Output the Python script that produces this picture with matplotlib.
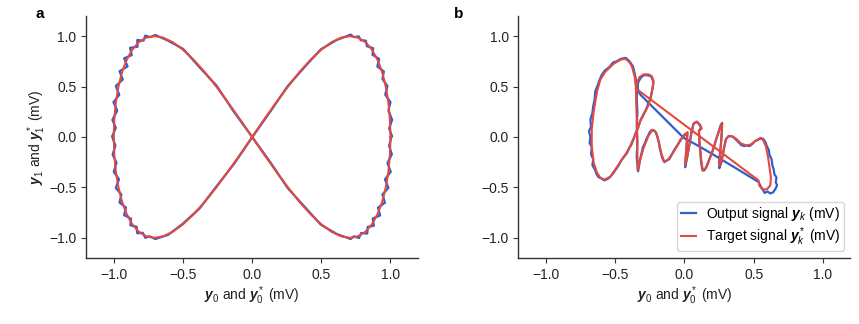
import numpy as np
import matplotlib
matplotlib.use("Agg")
import matplotlib.pyplot as plt

plt.rcParams["font.family"] = ["Liberation Sans", "DejaVu Sans"]
plt.rcParams["mathtext.fontset"] = "custom"
plt.rcParams["mathtext.rm"] = "Liberation Sans"
plt.rcParams["mathtext.it"] = "Liberation Sans:italic"
plt.rcParams["mathtext.bf"] = "Liberation Sans:bold"
plt.rcParams["mathtext.bfit"] = "Liberation Sans:bold:italic"

BLUE = "#2f5fcc"
RED = "#e5483d"

#%% panel a : figure eight (target and output)
eight_target_x = [1.0, .996, .985, .966, .940, .906, .866, .819, .766, .707, .643, .574, .5, .423, .342, .259, .174, .087,
                  0.0, -.087, -.174, -.259, -.342, -.423, -.5, -.574, -.643, -.707, -.766, -.819, -.866, -.906, -.940, -.966, -.985, -.996,
                  -1.0, -.996, -.985, -.966, -.940, -.906, -.866, -.819, -.766, -.707, -.643, -.574, -.5, -.423, -.342, -.259, -.174, -.087,
                  0.0, .087, .174, .259, .342, .423, .5, .574, .643, .707, .766, .819, .866, .906, .940, .966, .985, .996, 1.0]
eight_target_y = [0.0, .174, .342, .5, .643, .766, .866, .940, .985, 1.0, .985, .940, .866, .766, .643, .5, .342, .174,
                  0.0, -.174, -.342, -.5, -.643, -.766, -.866, -.940, -.985, -1.0, -.985, -.940, -.866, -.766, -.643, -.5, -.342, -.174,
                  0.0, .174, .342, .5, .643, .766, .866, .940, .985, 1.0, .985, .940, .866, .766, .643, .5, .342, .174,
                  0.0, -.174, -.342, -.5, -.643, -.766, -.866, -.940, -.985, -1.0, -.985, -.940, -.866, -.766, -.643, -.5, -.342, -.174, 0.0]

eight_output_x = [1.010, 0.990, 1.012, 0.985, 1.000, 0.962, 0.978, 0.942, 0.952, 0.905, 0.918, 0.870, 0.875, 0.830, 0.822,
                  0.785, 0.770, 0.735, 0.712,
                  0.612, 0.497, 0.385, 0.256, 0.133, 0.003,
                  -0.128, -0.262, -0.380, -0.503, -0.606,
                  -0.700, -0.740, -0.772, -0.790, -0.830, -0.835, -0.880, -0.875, -0.925, -0.912, -0.958, -0.945, -0.985,
                  -0.962, -1.000, -0.980, -1.008, -0.988, -1.012,
                  -0.985, -1.010, -0.975, -1.002, -0.960, -0.985, -0.935, -0.958, -0.900, -0.925, -0.870, -0.882, -0.828,
                  -0.830, -0.785, -0.772, -0.735, -0.700,
                  -0.612, -0.497, -0.386, -0.255, -0.134, 0.002,
                  0.134, 0.256, 0.386, 0.497, 0.612,
                  0.712, 0.735, 0.772, 0.788, 0.832, 0.835, 0.880, 0.872, 0.925, 0.910, 0.960, 0.942, 0.985, 0.960,
                  1.002, 0.978, 1.010, 0.990, 1.008]
eight_output_y = [0.010, 0.085, 0.170, 0.262, 0.345, 0.420, 0.505, 0.575, 0.650, 0.700, 0.775, 0.815, 0.880, 0.900, 0.955,
                  0.960, 0.998, 0.990, 1.015,
                  0.962, 0.870, 0.702, 0.503, 0.255, 0.002,
                  -0.262, -0.497, -0.710, -0.862, -0.970,
                  -1.012, -0.985, -1.000, -0.950, -0.955, -0.890, -0.875, -0.810, -0.775, -0.700, -0.650, -0.570, -0.505,
                  -0.420, -0.345, -0.255, -0.175, -0.085, 0.005,
                  0.090, 0.170, 0.262, 0.345, 0.418, 0.505, 0.570, 0.652, 0.700, 0.780, 0.812, 0.885, 0.895,
                  0.962, 0.955, 1.005, 0.990, 1.012,
                  0.958, 0.872, 0.700, 0.506, 0.254, -0.003,
                  -0.255, -0.505, -0.702, -0.870, -0.962,
                  -1.012, -0.985, -1.002, -0.952, -0.958, -0.892, -0.880, -0.808, -0.778, -0.700, -0.652, -0.570, -0.505, -0.420,
                  -0.345, -0.258, -0.172, -0.088, 0.005]

#%% panel b : handwriting trajectory
hand_target_x = [-0.350, -0.360, -0.379, -0.401, -0.427, -0.463, -0.511, -0.572, -0.608, -0.632, -0.656, -0.670, -0.670,
                 -0.656, -0.632, -0.608, -0.579, -0.536, -0.475, -0.403, -0.355, -0.319, -0.295, -0.259, -0.235, -0.223,
                 -0.235, -0.259, -0.295, -0.324, -0.343, -0.350,
                 -0.348, -0.343, -0.341, -0.338, -0.338,
                 -0.319, -0.295, -0.259, -0.230, -0.206, -0.187, -0.167, -0.146, -0.122, -0.083, -0.042, -0.001, 0.023,
                 0.013, 0.006, 0.030, 0.054, 0.066, 0.090, 0.114, 0.124, 0.104,
                 0.109, 0.121, 0.133, 0.158, 0.199, 0.235, 0.259, 0.273,
                 0.266, 0.256, 0.251, 0.266, 0.283, 0.300, 0.319, 0.345, 0.374, 0.408, 0.446, 0.480, 0.511, 0.543,
                 0.567, 0.588, 0.603, 0.615, 0.625, 0.620, 0.596, 0.564, 0.543, 0.535, -0.350]
hand_target_y = [0.480, 0.597, 0.697, 0.746, 0.776, 0.766, 0.727, 0.647, 0.568, 0.450, 0.252, 0.074, -0.091,
                 -0.255, -0.354, -0.404, -0.423, -0.394, -0.272, -0.124, 0.025, 0.157, 0.222, 0.318, 0.450, 0.552,
                 0.601, 0.621, 0.621, 0.595, 0.542, 0.476,
                 0.305, 0.107, -0.091, -0.272, -0.328,
                 -0.222, -0.107, 0.015, 0.071, 0.048, -0.041, -0.163, -0.245, -0.229, -0.157, -0.064, 0.025, 0.048,
                 -0.124, -0.288, -0.124, 0.058, 0.133, 0.153, 0.120, 0.081, 0.064,
                 -0.058, -0.222, -0.334, -0.305, -0.157, 0.002, 0.100, 0.133,
                 -0.025, -0.189, -0.288, -0.255, -0.130, -0.025, 0.008, 0.008, -0.018, -0.064, -0.084, -0.074, -0.041, -0.015,
                 -0.025, -0.091, -0.189, -0.305, -0.404, -0.480, -0.519, -0.519, -0.486, -0.430, 0.480]

hand_output_x = [-0.345, -0.355, -0.372, -0.400, -0.425, -0.460, -0.490, -0.515, -0.545, -0.575, -0.600, -0.615, -0.625,
                 -0.645, -0.648, -0.660, -0.665, -0.680, -0.675, -0.690, -0.680, -0.685, -0.670, -0.675, -0.660, -0.665,
                 -0.645, -0.635, -0.620, -0.600, -0.580, -0.560, -0.540, -0.515, -0.500, -0.475, -0.460, -0.440, -0.415,
                 -0.400, -0.385, -0.365, -0.355, -0.335, -0.320, -0.305, -0.290, -0.275, -0.262, -0.245, -0.235, -0.228,
                 -0.225, -0.240, -0.260, -0.290, -0.315, -0.335, -0.340,
                 -0.345, -0.340, -0.345, -0.340, -0.345, -0.335, -0.330, -0.320, -0.310, -0.300, -0.285, -0.275, -0.260,
                 -0.250, -0.235, -0.220, -0.205, -0.195, -0.185, -0.180, -0.170, -0.160, -0.145, -0.130, -0.110, -0.090,
                 -0.070, -0.050, -0.030, -0.005, 0.020,
                 0.015, 0.008, 0.005, 0.020, 0.035, 0.050, 0.065, 0.085, 0.105, 0.120, 0.105, 0.108, 0.115, 0.120, 0.130,
                 0.145, 0.160, 0.180, 0.200, 0.215, 0.230, 0.245, 0.260, 0.272,
                 0.270, 0.265, 0.258, 0.250, 0.252, 0.265, 0.278, 0.290, 0.300, 0.320, 0.345, 0.360, 0.375, 0.390, 0.410,
                 0.430, 0.450, 0.470, 0.490, 0.510, 0.530, 0.550, 0.570, 0.585, 0.595, 0.610, 0.615, 0.630, 0.635, 0.645,
                 0.650, 0.665, 0.660, 0.670, 0.655, 0.640, 0.620, 0.600, 0.580, 0.565, 0.555,
                 0.535, 0.360, 0.187, 0.090, -0.006, -0.102, -0.174, -0.250, -0.319, -0.345]
hand_output_y = [0.500, 0.600, 0.700, 0.755, 0.785, 0.775, 0.750, 0.740, 0.690, 0.660, 0.610, 0.560, 0.520,
                 0.450, 0.380, 0.300, 0.240, 0.170, 0.100, 0.060, 0.000, -0.060, -0.100, -0.170, -0.220, -0.280,
                 -0.330, -0.370, -0.400, -0.410, -0.430, -0.420, -0.400, -0.360, -0.330, -0.280, -0.240, -0.200, -0.160,
                 -0.110, -0.080, -0.010, 0.030, 0.090, 0.160, 0.200, 0.240, 0.280, 0.330, 0.380, 0.450, 0.500,
                 0.550, 0.600, 0.610, 0.615, 0.590, 0.540, 0.480,
                 0.380, 0.250, 0.100, -0.050, -0.200, -0.340, -0.300, -0.220, -0.160, -0.100, -0.060, -0.020, 0.020,
                 0.050, 0.070, 0.065, 0.040, 0.000, -0.050, -0.100, -0.160, -0.210, -0.250, -0.235, -0.220, -0.170,
                 -0.120, -0.080, -0.030, 0.010, 0.040,
                 -0.100, -0.220, -0.300, -0.200, -0.080, 0.050, 0.130, 0.150, 0.130, 0.090, 0.060, -0.050, -0.150, -0.250, -0.330,
                 -0.330, -0.290, -0.220, -0.150, -0.090, -0.020, 0.040, 0.110, 0.140,
                 0.050, -0.050, -0.150, -0.250, -0.310, -0.260, -0.170, -0.080, -0.020, 0.010, 0.005, -0.010, -0.030, -0.050, -0.080,
                 -0.090, -0.085, -0.090, -0.070, -0.040, -0.030, -0.010, -0.020, -0.050, -0.090, -0.130, -0.180, -0.220, -0.280, -0.320,
                 -0.370, -0.400, -0.450, -0.480, -0.520, -0.550, -0.560, -0.540, -0.555, -0.520, -0.500,
                 -0.446, -0.300, -0.157, -0.080, -0.008, 0.124, 0.222, 0.325, 0.420, 0.500]

ticks = [-1.0, -0.5, 0.0, 0.5, 1.0]
xlabel = r"$\boldsymbol{y}_0$ and $\boldsymbol{y}_0^*$ (mV)"
ylabel = r"$\boldsymbol{y}_1$ and $\boldsymbol{y}_1^*$ (mV)"
out_label = r"Output signal $\boldsymbol{y}_k$ (mV)"
tgt_label = r"Target signal $\boldsymbol{y}_k^*$ (mV)"

fig = plt.figure(figsize=(8.59, 3.24), dpi=100)
ax_a = fig.add_axes([0.1002, 0.2037, 0.3866, 0.747])
ax_b = fig.add_axes([0.6035, 0.2037, 0.3866, 0.747])

ax_a.plot(eight_output_x, eight_output_y, color=BLUE, lw=1.6, label=out_label)
ax_a.plot(eight_target_x, eight_target_y, color=RED, lw=1.5, label=tgt_label)

ax_b.plot(hand_output_x, hand_output_y, color=BLUE, lw=1.6, label=out_label)
ax_b.plot(hand_target_x, hand_target_y, color=RED, lw=1.5, label=tgt_label)

for ax in (ax_a, ax_b):
    ax.set_xlim(-1.2, 1.2)
    ax.set_ylim(-1.2, 1.2)
    ax.set_xticks(ticks)
    ax.set_yticks(ticks)
    ax.spines["top"].set_visible(False)
    ax.spines["right"].set_visible(False)
    for s in ("left", "bottom"):
        ax.spines[s].set_color("#333333")
        ax.spines[s].set_linewidth(1.0)
    ax.tick_params(direction="out", length=3.5, width=0.8, colors="#333333", labelsize=10, labelcolor="#222222")
    ax.set_xlabel(xlabel, fontsize=10, color="#222222", labelpad=2)

ax_a.set_ylabel(ylabel, fontsize=10, color="#222222", labelpad=1)

leg = ax_b.legend(loc="lower right", fontsize=10, frameon=True, fancybox=True,
                  borderpad=0.25, labelspacing=0.12, handlelength=1.1, handletextpad=0.7,
                  bbox_to_anchor=(1.0, 0.0))
leg.get_frame().set_edgecolor("#cccccc")

fig.text(0.041, 0.957, "a", fontsize=11, fontweight="bold", va="center")
fig.text(0.529, 0.957, "b", fontsize=11, fontweight="bold", va="center")

fig.savefig("out.png", dpi=100)
